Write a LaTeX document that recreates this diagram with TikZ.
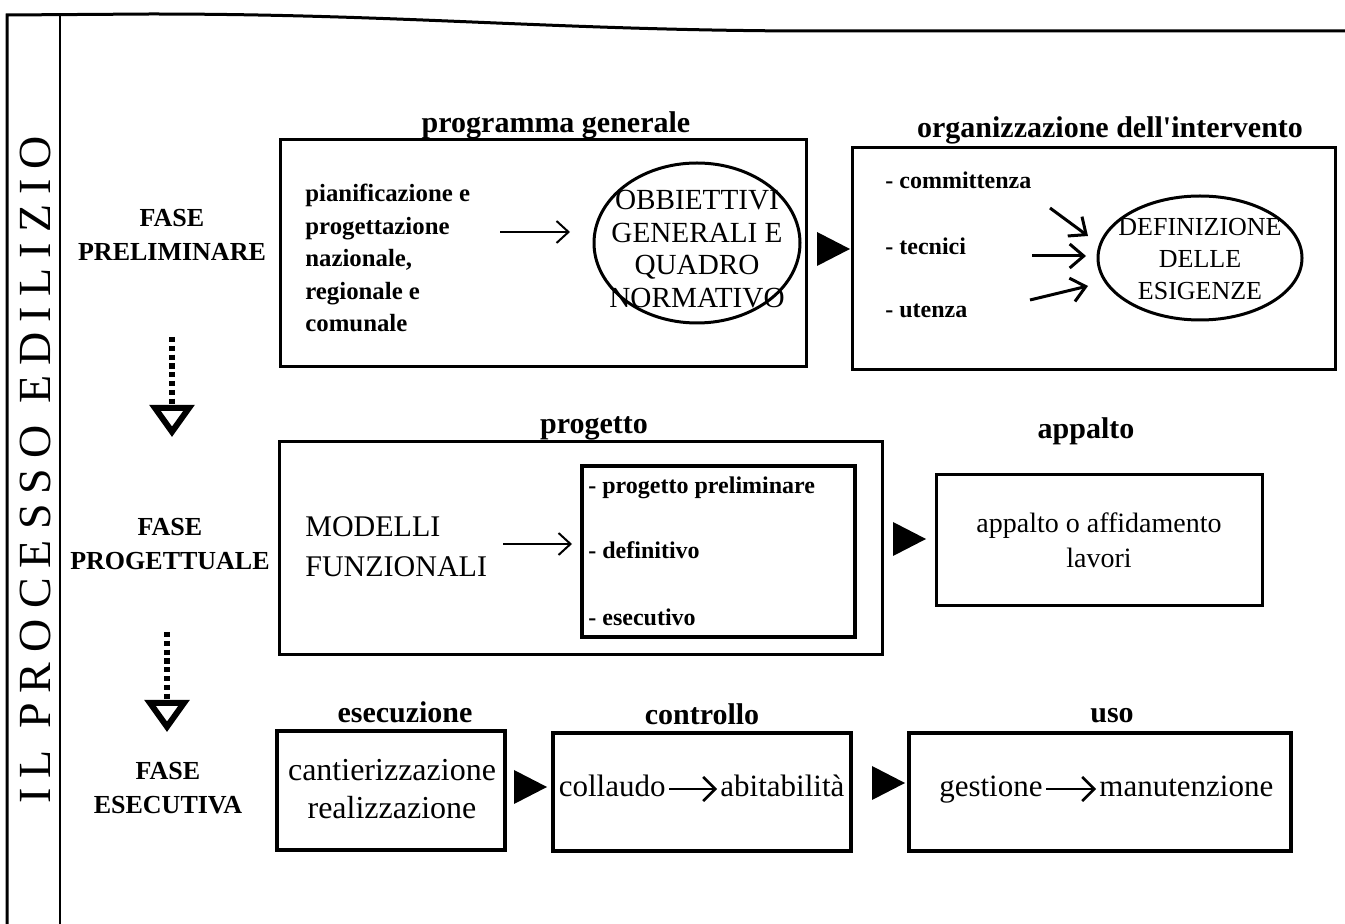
\documentclass[tikz,border=0pt]{standalone}
\usepackage{fontspec}
\setmainfont{Liberation Serif}
\usetikzlibrary{arrows.meta,shapes.geometric}

\begin{document}
\begin{tikzpicture}[x=0.5pt,y=-0.5pt,
  box/.style 2 args={draw,line width=1.5pt,minimum width=#1,minimum height=#2,inner sep=0pt},
  head/.style={font=\bfseries\fontsize{15}{18}\selectfont},
  phase/.style={font=\bfseries\fontsize{13}{17}\selectfont,align=center},
  item/.style={font=\bfseries\fontsize{12}{16.25}\selectfont,align=left,anchor=west,inner sep=0pt},
  txt/.style={align=center,inner sep=1pt},
  inl/.style={font=\fontsize{15.5}{19}\selectfont,inner sep=1.5pt,text height=11pt,text depth=3pt},
  arr/.style={-{Straight Barb[length=6pt,width=11pt]},line width=1pt},
  fatarr/.style={-{Straight Barb[length=7pt,width=12pt]},line width=1.5pt},
  inarr/.style={-{Straight Barb[length=6pt,width=12pt]},line width=1.3pt},
  phasearrow/.style={line width=3pt,dash pattern=on 2.6pt off 1.8pt,
    -{Triangle[open,length=16pt,width=22pt,line width'=3pt]}}]
\useasboundingbox (0,0) rectangle (1345,924);

% cornice
\draw[line width=1.5pt] (7,924) -- (7,15) -- (150,14) .. controls (400,14) and (550,30) .. (800,31) -- (1345,31);
\draw[line width=1.2pt] (60,15) -- (60,924);
\node[rotate=90,font=\fontsize{23}{23}\selectfont\addfontfeature{LetterSpace=22}] (titolo) at (35,470) {IL PROCESSO EDILIZIO};

% fasi
\node[phase] (fprel) at (172,235) {FASE\\PRELIMINARE};
\node[phase] (fprog) at (170,544) {FASE\\PROGETTUALE};
\node[phase] (fesec) at (168,788) {FASE\\ESECUTIVA};
\coordinate (d1s) at (172,337);
\coordinate (d1e) at (172,437);
\coordinate (d2s) at (167,632);
\coordinate (d2e) at (167,732);
\draw[phasearrow] (d1s) -- (d1e);
\draw[phasearrow] (d2s) -- (d2e);

% fase preliminare
\node[head] at (556,125) {programma generale};
\node[box={263pt}{113.5pt}] (progr) at (543,253.5) {};
\node[item,font=\bfseries\fontsize{12.4}{16.25}\selectfont] (pian) at (305,258) {pianificazione e\\progettazione\\nazionale,\\regionale e\\comunale};
\node[ellipse,draw,line width=1.5pt,minimum width=103pt,minimum height=80pt] (obj) at (697,243) {};
\node[txt,font=\fontsize{14.6}{16.2}\selectfont] at (697,249) {OBBIETTIVI\\GENERALI E\\QUADRO\\NORMATIVO};
\coordinate (a1s) at (500,232);
\coordinate (a1e) at (570,232);
\draw[arr] (a1s) -- (a1e);

\node[head] at (1110,130) {organizzazione dell\textquotesingle intervento};
\node[box={241.5pt}{111pt}] (org) at (1093.5,259) {};
\node[item] (comm) at (885,180) {- committenza};
\node[item] (tecn) at (885,246) {- tecnici};
\node[item] (uten) at (885,311) {- utenza};
\node[ellipse,draw,line width=1.5pt,minimum width=102pt,minimum height=62pt] (esig) at (1200,258) {};
\node[txt,font=\fontsize{13}{16}\selectfont] at (1200,259) {DEFINIZIONE\\DELLE\\ESIGENZE};
\coordinate (c1s) at (1050,208);
\coordinate (c1e) at (1088,236);
\coordinate (c2s) at (1032,256);
\coordinate (c2e) at (1086,256);
\coordinate (c3s) at (1030,300);
\coordinate (c3e) at (1088,286);
\draw[fatarr] (c1s) -- (c1e);
\draw[fatarr] (c2s) -- (c2e);
\draw[fatarr] (c3s) -- (c3e);

% fase progettuale
\node[head] at (594,428) {progetto};
\node[box={301.5pt}{106.5pt}] (prog) at (580.5,548.5) {};
\node[box={136.5pt}{85.5pt},line width=2pt] (livelli) at (718.5,551.5) {};
\node[item] (prel) at (588,488) {- progetto preliminare};
\node[item] (defi) at (588,550) {- definitivo};
\node[item] (esec) at (588,617) {- esecutivo};
\node[anchor=west,inner sep=0pt,align=left,font=\fontsize{15}{20}\selectfont] (mod) at (305,547) {MODELLI\\FUNZIONALI};
\coordinate (m1s) at (503,544);
\coordinate (m1e) at (572,544);
\draw[arr] (m1s) -- (m1e);

\node[head] at (1086,431) {appalto};
\node[box={163pt}{65.5pt}] (app) at (1099,540.5) {};
\node[txt,font=\fontsize{14}{17.5}\selectfont] at (1099,540) {appalto o affidamento\\lavori};

% fase esecutiva
\node[head] at (405,712) {esecuzione};
\node[head] at (702,714) {controllo};
\node[head] at (1112,716) {uso};
\node[box={114pt}{59.5pt},line width=2pt] (cant) at (391,790.5) {};
\node[txt,font=\fontsize{16}{19}\selectfont] at (392,789) {cantierizzazione\\realizzazione};
\node[box={149pt}{59pt},line width=1.8pt] (contr) at (702,792) {};
\node[inl,anchor=east] (coll) at (669,789) {collaudo};
\node[inl,anchor=west] (abit) at (717,789) {abitabilità};
\draw[inarr] (coll) -- (abit);
\node[box={191pt}{59pt},line width=1.8pt] (uso) at (1100,792) {};
\node[inl,anchor=east] (gest) at (1046,789) {gestione};
\node[inl,anchor=west] (manu) at (1096,789) {manutenzione};
\draw[inarr] (gest) -- (manu);

% triangoli
\foreach \x/\y in {817/232, 893/522, 514/770, 872/766}
  \fill (\x,\y) -- ++(33,17) -- ++(-33,17) -- cycle;
\end{tikzpicture}
\end{document}
